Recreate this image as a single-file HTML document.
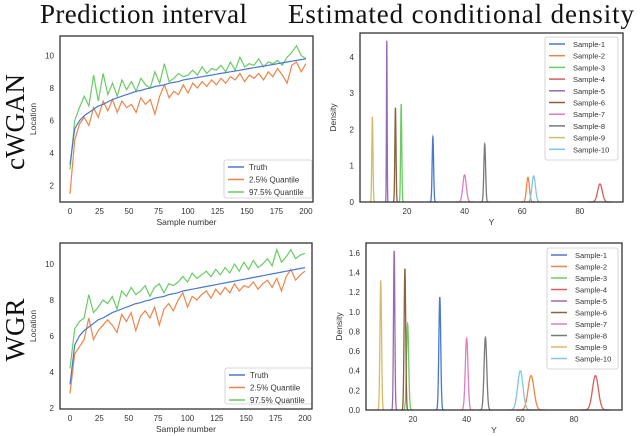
<!DOCTYPE html>
<html><head><meta charset="utf-8"><style>
body{margin:0;background:#fff;width:640px;height:436px;overflow:hidden}
svg{display:block}
text{font-family:"Liberation Sans",sans-serif;fill:#333}
.ttl{font-family:"Liberation Serif",serif;font-size:27px;fill:#111}
</style></head><body>
<svg id="s" width="640" height="436">
<text class="ttl" x="40" y="23" textLength="207">Prediction interval</text>
<text class="ttl" x="288" y="23" textLength="346">Estimated conditional density</text>
<text class="ttl" transform="translate(24,122) rotate(-90)" text-anchor="middle">cWGAN</text>
<text class="ttl" transform="translate(24,330) rotate(-90)" text-anchor="middle">WGR</text>
</svg>
<script>
const truthVals=[3.3,5.5,6.0,6.3,6.5,6.7,6.9,7.0,7.15,7.3,7.4,7.5,7.6,7.7,7.8,7.85,7.95,8.0,8.1,8.15,8.2,8.3,8.35,8.4,8.5,8.55,8.6,8.65,8.7,8.75,8.8,8.85,8.9,8.95,9.0,9.05,9.1,9.15,9.2,9.25,9.3,9.35,9.4,9.45,9.5,9.55,9.6,9.65,9.7,9.75,9.8];
const cwganUpper=[3.0,6.0,6.8,7.5,6.9,8.8,7.2,8.9,7.6,8.3,7.5,8.5,7.9,8.4,7.8,8.6,8.2,8.0,9.0,8.3,9.5,8.4,8.6,8.9,8.7,8.8,9.1,8.8,9.3,8.9,9.2,9.1,9.4,9.0,9.6,9.1,9.9,9.3,9.5,9.4,9.8,9.3,9.6,9.5,9.7,9.4,9.9,10.2,10.6,10.0,9.8];
const cwganLower=[1.5,4.8,5.8,6.2,5.7,6.8,6.2,7.2,6.6,7.3,6.5,7.2,6.8,7.0,6.5,7.4,7.0,7.3,6.4,7.5,8.2,7.4,7.8,7.6,8.2,7.7,8.3,8.0,8.4,8.1,8.5,8.2,8.6,8.3,8.7,8.5,8.9,8.4,8.8,8.6,8.9,8.5,9.0,8.7,9.2,8.8,8.3,9.4,9.6,9.0,9.5];
const wgrUpper=[4.2,6.4,6.8,7.0,8.3,7.3,7.6,8.0,7.8,8.2,7.5,8.5,8.2,8.7,8.3,8.5,8.8,8.2,8.7,8.9,8.4,8.9,8.8,9.0,9.3,9.0,9.5,9.2,9.4,9.6,9.3,9.7,9.4,9.8,9.5,10.0,9.6,10.1,9.7,10.2,9.8,10.0,10.3,9.9,10.8,10.1,10.4,10.8,10.3,10.5,10.6];
const wgrLower=[2.8,5.0,5.4,5.8,7.0,5.8,6.3,6.6,6.9,6.6,6.2,7.2,6.8,7.3,6.3,7.1,7.4,7.0,7.6,6.6,7.5,7.8,7.4,8.0,8.4,7.6,8.2,8.0,8.3,8.5,8.1,8.6,8.3,8.7,8.4,8.9,8.5,8.8,8.7,9.0,8.6,8.9,9.1,8.7,9.2,8.5,9.3,9.7,9.1,9.4,9.6];
const lineXTicks=[0,25,50,75,100,125,150,175,200];
const lineYTicks=[2,4,6,8,10];
const sampleNames=["Sample-1","Sample-2","Sample-3","Sample-4","Sample-5","Sample-6","Sample-7","Sample-8","Sample-9","Sample-10"];
const topCenters=[29,62,18,87,13,16,40,47,8,64];
const topHeights=[1.8,0.68,2.7,0.5,4.45,2.6,0.75,1.6,2.35,0.72];
const topSpreads=[0.25,0.5,0.2,0.8,0.12,0.2,0.6,0.3,0.2,0.6];
const botCenters=[30,64,18,88,13,17,40,47,8,60];
const botHeights=[1.15,0.35,0.88,0.35,1.62,1.44,0.73,0.74,1.32,0.4];
const botSpreads=[0.35,1.1,0.4,1.1,0.25,0.3,0.5,0.5,0.3,1.0];
const denXTicks=[20,40,60,80];
const topYTicks=[0,1,2,3,4];
const botYTicks=[0,0.2,0.4,0.6,0.8,1.0,1.2,1.4,1.6];
const colors=["#4878d0","#ee854a","#6acc64","#d65f5f","#956cb4","#8c613c","#dc7ec0","#797979","#d5bb67","#82c6e2"];
const NS="http://www.w3.org/2000/svg",S=document.getElementById('s');
function mk(t,a,p){const e=document.createElementNS(NS,t);for(const k in a)e.setAttribute(k,a[k]);(p||S).appendChild(e);return e;}
function txt(x,y,s,sz,anc,p){const e=mk('text',{x:x,y:y,'font-size':sz,'text-anchor':anc||'middle'},p);e.textContent=s;return e;}
function panel(name,L,R,T,B,x0,x1,y0,y1,xt,yt,xl,yl,fmt){
  const g=mk('g',{});
  
  
  const sx=v=>L+(v-x0)/(x1-x0)*(R-L), sy=v=>B-(v-y0)/(y1-y0)*(B-T);
  xt.forEach(v=>{const t=txt(sx(v),B+12,String(v),8,'middle',g);
    
    });
  yt.forEach(v=>{const t=txt(L-6,sy(v)+3,fmt?fmt(v):String(v),8,'end',g);
    
    });
  const a=txt((L+R)/2,B+23,xl,8.5,'middle',g);
  
  
  const b=mk('text',{transform:`translate(${L-24},${(T+B)/2}) rotate(-90)`,'font-size':8.5,'text-anchor':'middle'},g);b.textContent=yl;
  
  
  return {g,sx,sy,frame:()=>{const r=mk('rect',{x:L,y:T,width:R-L,height:B-T,fill:'none',stroke:'#333','stroke-width':1.3},g);
    
    }};
}
function linePanel(name,L,R,T,B,y0,y1,series,leg){
  const P=panel(name,L,R,T,B,-8.5,206,y0,y1,lineXTicks,lineYTicks,'Sample number','Location');
  const names=['Truth','2.5% Quantile','97.5% Quantile'],cols=[colors[0],colors[1],colors[2]];
  [2,1,0].forEach(k=>{const arr=series[k];const n=arr.length;
    const d=arr.map((v,i)=>(i?'L':'M')+P.sx(i*200/(n-1)).toFixed(1)+','+P.sy(v).toFixed(1)).join('');
    const p=mk('path',{d:d,fill:'none',stroke:cols[k],'stroke-width':1.2},P.g);
    
    });
  const lg=mk('g',{},P.g);
  
  
  mk('rect',{x:leg[0],y:leg[1],width:leg[2],height:leg[3],fill:'#fff',stroke:'#ccc','stroke-width':0.8,rx:2},lg);
  names.forEach((s,i)=>{const y=leg[1]+7+i*12.5;
    mk('line',{x1:leg[0]+4,x2:leg[0]+20,y1:y,y2:y,stroke:cols[i],'stroke-width':1.5},lg);
    const t=txt(leg[0]+25,y+3,s,8,'start',lg);
    
    });
  P.frame();
}
function denPanel(name,L,R,T,B,x0,x1,y1,yt,C,H,W,leg,fmt){
  const P=panel(name,L,R,T,B,x0,x1,0,y1,denXTicks,yt,'Y','Density',fmt);
  C.forEach((c,k)=>{let d='';for(let j=0;j<=120;j++){const x=c-5*W[k]+j*10*W[k]/120;const v=H[k]*Math.exp(-0.5*((x-c)/W[k])**2);d+=(j?'L':'M')+P.sx(x).toFixed(2)+','+P.sy(v).toFixed(2);}
    const p=mk('path',{d:d,fill:'none',stroke:colors[k],'stroke-width':1.3},P.g);
    
    });
  const lg=mk('g',{},P.g);
  
  
  mk('rect',{x:leg[0],y:leg[1],width:leg[2],height:leg[3],fill:'#fff',stroke:'#ccc','stroke-width':0.8,rx:2},lg);
  sampleNames.forEach((s,i)=>{const y=leg[1]+7+i*(leg[3]-6)/10;
    mk('line',{x1:leg[0]+4,x2:leg[0]+20,y1:y,y2:y,stroke:colors[i],'stroke-width':1.5},lg);
    const t=txt(leg[0]+28,y+3,s,7.5,'start',lg);
    
    });
  P.frame();
}
linePanel('cwgan-interval-chart',60,313,36,202,1.0,11.2,[truthVals,cwganLower,cwganUpper],[224,160,88,38]);
linePanel('wgr-interval-chart',60,312,243,409,1.94,11.17,[truthVals,wgrLower,wgrUpper],[225,368,87,36]);
denPanel('cwgan-density-chart',360,623,33,202,3.7,95,4.66,topYTicks,topCenters,topHeights,topSpreads,[545,37,73,123]);
denPanel('wgr-density-chart',366,622,243,410,2.5,97.9,1.70,botYTicks,botCenters,botHeights,botSpreads,[547,248,71,121],v=>v.toFixed(1));
</script>
</body></html>
